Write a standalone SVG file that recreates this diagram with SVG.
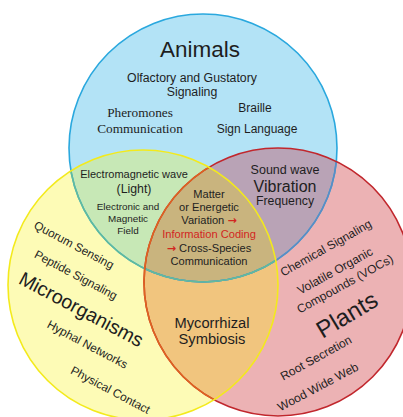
<svg xmlns="http://www.w3.org/2000/svg" width="403" height="417" viewBox="0 0 403 417">
<defs>
<clipPath id="cA"><circle cx="203" cy="148" r="134"/></clipPath>
<clipPath id="cM"><circle cx="143" cy="285" r="135"/></clipPath>
<clipPath id="cP"><circle cx="278" cy="282" r="134"/></clipPath>
<style>
text{font-family:"Liberation Sans",Arial,sans-serif;fill:#1e1e1e;text-anchor:middle}
.serif{font-family:"Liberation Serif","Times New Roman",serif}
.red{fill:#d2261f}
.arr{fill:#d2261f;font-family:"DejaVu Sans",sans-serif;font-weight:bold}
.ring{fill:none;stroke-width:1.6}
</style>
</defs>
<rect width="403" height="417" fill="#ffffff"/>
<g id="circles">
<circle cx="203" cy="148" r="134" fill="#b3e3f6"/>
<circle cx="143" cy="285" r="135" fill="#fdfbb6"/>
<circle cx="278" cy="282" r="134" fill="#ecb2b4"/>
<g clip-path="url(#cA)">
<circle cx="143" cy="285" r="135" fill="#c7e8b6"/>
<circle cx="278" cy="282" r="134" fill="#b9a3b6"/>
</g>
<g clip-path="url(#cM)"><circle cx="278" cy="282" r="134" fill="#f1c57e"/></g>
<g clip-path="url(#cA)"><g clip-path="url(#cM)"><circle cx="278" cy="282" r="134" fill="#c9b47e"/></g></g>
<circle class="ring" cx="203" cy="148" r="134" stroke="#2aa8de"/>
<circle class="ring" cx="203" cy="148" r="134" stroke="#5b8cc4" clip-path="url(#cP)"/>
<circle class="ring" cx="203" cy="148" r="134" stroke="#62bb9c" clip-path="url(#cM)"/>
<circle class="ring" cx="278" cy="282" r="134" stroke="#c1272d"/>
<circle class="ring" cx="278" cy="282" r="134" stroke="#de6420" clip-path="url(#cM)"/>
<circle class="ring" cx="143" cy="285" r="135" stroke="#f3ea1c"/>
</g>
<g id="animals">
<text x="200" y="57" font-size="22.5">Animals</text>
<text x="192" y="82" font-size="12.3">Olfactory and Gustatory</text>
<text x="192" y="95.5" font-size="12.3">Signaling</text>
<text class="serif" x="140" y="117" font-size="13.3">Pheromones</text>
<text class="serif" x="140" y="132.5" font-size="13.3">Communication</text>
<text x="255" y="111.5" font-size="12">Braille</text>
<text x="257" y="133" font-size="12">Sign Language</text>
</g>
<g id="microorganisms">
<text transform="translate(74,245) rotate(28)" y="4" font-size="11.8">Quorum Sensing</text>
<text transform="translate(76,275) rotate(28)" y="4" font-size="11.8">Peptide Signaling</text>
<text transform="translate(81.5,309) rotate(28)" y="7" font-size="19.5">Microorganisms</text>
<text transform="translate(87.5,344.5) rotate(28)" y="4" font-size="11.8">Hyphal Networks</text>
<text transform="translate(110.5,390) rotate(28)" y="4" font-size="11.8">Physical Contact</text>
</g>
<g id="plants">
<text transform="translate(326,248) rotate(-29.5)" y="4" font-size="12">Chemical Signaling</text>
<text transform="translate(335,271) rotate(-29)" y="4" font-size="12">Volatile Organic</text>
<text transform="translate(345,284) rotate(-29)" y="4" font-size="12">Compounds (VOCs)</text>
<text transform="translate(347,315) rotate(-31)" y="8" font-size="24">Plants</text>
<text transform="translate(316,358) rotate(-29)" y="4" font-size="12">Root Secretion</text>
<text transform="translate(318,387) rotate(-28)" y="4" font-size="12">Wood Wide Web</text>
</g>
<g id="animals-microorganisms">
<text x="134" y="177.5" font-size="11">Electromagnetic wave</text>
<text x="134" y="192.5" font-size="12.3">(Light)</text>
<text x="128" y="210" font-size="9.9">Electronic and</text>
<text x="128" y="221.5" font-size="9.9">Magnetic</text>
<text x="128" y="233.5" font-size="9.9">Field</text>
</g>
<g id="animals-plants">
<text x="285" y="173.5" font-size="12.5">Sound wave</text>
<text x="285" y="191.5" font-size="16">Vibration</text>
<text x="285" y="204.5" font-size="12.3">Frequency</text>
</g>
<g id="all-three" font-size="11.1">
<text x="209" y="197.5">Matter</text>
<text x="209" y="211">or Energetic</text>
<text x="209" y="224">Variation <tspan class="arr">→</tspan></text>
<text x="209" y="238.3" class="red">Information Coding</text>
<text x="209" y="251.7"><tspan class="arr">→</tspan> Cross-Species</text>
<text x="209" y="265">Communication</text>
</g>
<g id="microorganisms-plants">
<text x="212" y="327.5" font-size="14.7">Mycorrhizal</text>
<text x="212" y="344" font-size="14.7">Symbiosis</text>
</g>
</svg>
